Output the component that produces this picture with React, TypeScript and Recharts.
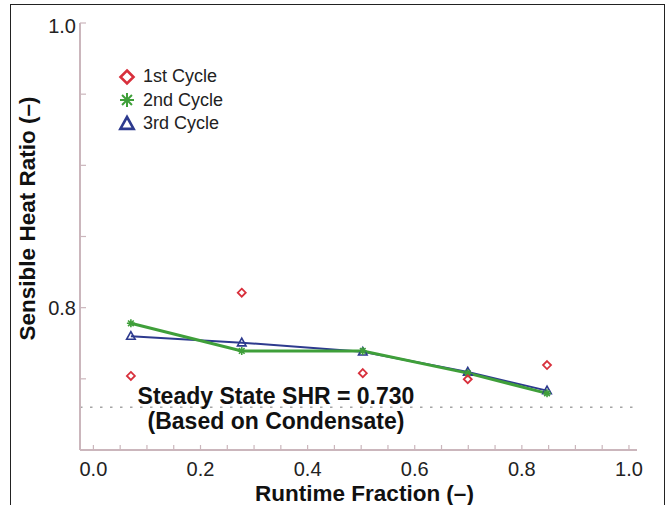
import React from "react";
import { ComposedChart, Line, XAxis, YAxis, ReferenceLine, Legend } from "recharts";

// runtime fraction for each test
const runtime = [0.07, 0.277, 0.503, 0.699, 0.847];
// sensible heat ratio per cycle
const cycle1 = [0.752, 0.8105, 0.754, 0.7497, 0.7597];
const cycle2 = [0.789, 0.7696, 0.7696, 0.754, 0.7398];
const cycle3 = [0.78, 0.7754, 0.769, 0.7548, 0.7417];
const seriesNames = ["1st Cycle", "2nd Cycle", "3rd Cycle"];
const steadyShr = 0.73;

const xTicks = [0, 0.05, 0.1, 0.15, 0.2, 0.25, 0.3, 0.35, 0.4, 0.45, 0.5, 0.55, 0.6, 0.65, 0.7, 0.75, 0.8, 0.85, 0.9, 0.95, 1.0];
const xLabels = [0, 0.2, 0.4, 0.6, 0.8, 1.0];
const yTicks = [0.7, 0.75, 0.8, 0.85, 0.9, 0.95, 1.0];
const yLabels = [0.8, 1.0];

const data = runtime.map((x, i) => ({ x, c1: cycle1[i], c2: cycle2[i], c3: cycle3[i] }));

const FONT = "'Liberation Sans', Arial, Helvetica, sans-serif";
const BORDER = "#cbb6bc";
const RED = "#d8303c";
const GREEN = "#3f9f3a";
const BLUE = "#2d3a8e";

const has = (list: number[], v: number) => list.some((l) => Math.abs(l - v) < 1e-9);

const BottomTick = (props: any) => {
  const { x, y, payload } = props;
  const axisY = y - 12;
  return (
    <g>
      <line x1={x} x2={x} y1={axisY} y2={axisY - 5} stroke={BORDER} strokeWidth={1.2} />
      {has(xLabels, payload.value) && (
        <text x={x} y={axisY + 19} textAnchor="middle" dominantBaseline="central" fontSize={20} fill="#222" fontFamily={FONT}>
          {payload.value.toFixed(1)}
        </text>
      )}
    </g>
  );
};

const TopTick = (props: any) => {
  const { x, y } = props;
  const axisY = y + 4;
  return <line x1={x} x2={x} y1={axisY} y2={axisY + 5} stroke={BORDER} strokeWidth={1.2} />;
};

const LeftTick = (props: any) => {
  const { x, y, payload } = props;
  const axisX = x + 4;
  return (
    <g>
      <line x1={axisX} x2={axisX + 6} y1={y} y2={y} stroke={BORDER} strokeWidth={1.2} />
      {has(yLabels, payload.value) && (
        <text x={axisX - 4} y={payload.value === 1 ? y + 3 : y} textAnchor="end" dominantBaseline="central" fontSize={20} fill="#222" fontFamily={FONT}>
          {payload.value.toFixed(1)}
        </text>
      )}
    </g>
  );
};

const RightTick = (props: any) => {
  const { x, y } = props;
  const axisX = x - 4;
  return <line x1={axisX} x2={axisX - 6} y1={y} y2={y} stroke={BORDER} strokeWidth={1.2} />;
};

const diamondPath = (cx: number, cy: number, r: number) =>
  `M${cx},${cy - r}L${cx + r},${cy}L${cx},${cy + r}L${cx - r},${cy}Z`;
const trianglePath = (cx: number, cy: number, r: number) =>
  `M${cx},${cy - r}L${cx + r * 0.95},${cy + r * 0.7}L${cx - r * 0.95},${cy + r * 0.7}Z`;
const starPath = (cx: number, cy: number, r: number) => {
  const d = r * 0.707;
  return `M${cx - r},${cy}L${cx + r},${cy}M${cx},${cy - r}L${cx},${cy + r}M${cx - d},${cy - d}L${cx + d},${cy + d}M${cx - d},${cy + d}L${cx + d},${cy - d}`;
};

const Marker = ({ kind, cx, cy, big }: { kind: string; cx: number; cy: number; big?: boolean }) => {
  if (kind === "c1")
    return <path d={diamondPath(cx, cy, big ? 6.5 : 4)} fill="none" stroke={RED} strokeWidth={big ? 2.6 : 1.8} />;
  if (kind === "c2")
    return <path d={starPath(cx, cy, big ? 7 : 4)} fill="none" stroke={GREEN} strokeWidth={big ? 2 : 1.6} />;
  return <path d={trianglePath(cx, cy, big ? 7 : 4.5)} fill="none" stroke={BLUE} strokeWidth={big ? 2.6 : 1.6} />;
};

const dotFor = (kind: string) => (p: any) =>
  <Marker key={`${kind}-${p.index}`} kind={kind} cx={p.cx} cy={p.cy} />;

const LegendBox = (props: any) => {
  const items = [...(props.payload || [])].sort((a: any, b: any) => String(a.dataKey).localeCompare(String(b.dataKey)));
  return (
    <div style={{ fontFamily: FONT, fontSize: 18, color: "#222" }}>
      {items.map((it: any) => (
        <div key={it.dataKey} style={{ display: "flex", alignItems: "center", height: 23.5 }}>
          <svg width={20} height={20}>
            <Marker kind={it.dataKey} cx={10} cy={10} big />
          </svg>
          <span style={{ marginLeft: 6 }}>{it.value}</span>
        </div>
      ))}
    </div>
  );
};

const steadyLabel = (props: any) => {
  const vb = props.viewBox || {};
  const cx = vb.x + 196;
  return (
    <g fontFamily={FONT} fontWeight="bold" fontSize={23} fill="#111" textAnchor="middle">
      <text x={cx} y={vb.y - 11} dominantBaseline="central">{`Steady State SHR = ${steadyShr.toFixed(3)}`}</text>
      <text x={cx} y={vb.y + 14} dominantBaseline="central">(Based on Condensate)</text>
    </g>
  );
};

const yTitle = (props: any) => {
  const vb = props.viewBox || {};
  const x = 27;
  const y = vb.y + vb.height / 2 - 18;
  return (
    <text x={x} y={y} transform={`rotate(-90 ${x} ${y})`} textAnchor="middle" dominantBaseline="central" fontFamily={FONT} fontWeight="bold" fontSize={22.5} fill="#111">
      Sensible Heat Ratio (–)
    </text>
  );
};

const xTitle = (props: any) => {
  const vb = props.viewBox || {};
  return (
    <text x={vb.x + vb.width / 2 + 6} y={493} textAnchor="middle" dominantBaseline="central" fontFamily={FONT} fontWeight="bold" fontSize={22.5} fill="#111">
      Runtime Fraction (–)
    </text>
  );
};

export default function App() {
  return (
    <div style={{ position: "absolute", left: 0, top: 0, width: 668, height: 505, overflow: "hidden", background: "#fff" }}>
      <div style={{ position: "absolute", left: 10, top: 4, width: 653, height: 540, border: "1.5px solid #222" }} />
      <ComposedChart width={668} height={505} data={data} margin={{ top: 23, right: 31, bottom: 0, left: 0 }}>
        <XAxis
          xAxisId="b"
          dataKey="x"
          type="number"
          domain={[-0.025, 1.015]}
          ticks={xTicks}
          interval={0}
          tickSize={0}
          tickMargin={12}
          height={55}
          tick={BottomTick}
          axisLine={{ stroke: BORDER, strokeWidth: 2 }}
          tickLine={false}
          label={xTitle}
        />
        <XAxis
          xAxisId="t"
          dataKey="x"
          type="number"
          orientation="top"
          domain={[-0.025, 1.015]}
          ticks={xTicks}
          interval={0}
          tickSize={0}
          tickMargin={4}
          height={0}
          tick={TopTick}
          axisLine={{ stroke: BORDER, strokeWidth: 2 }}
          tickLine={false}
        />
        <YAxis
          yAxisId="l"
          type="number"
          domain={[0.7, 1.0]}
          ticks={yTicks}
          interval={0}
          tickSize={0}
          tickMargin={4}
          width={80}
          tick={LeftTick}
          axisLine={{ stroke: BORDER, strokeWidth: 2 }}
          tickLine={false}
          label={yTitle}
        />
        <YAxis
          yAxisId="r"
          orientation="right"
          type="number"
          domain={[0.7, 1.0]}
          ticks={yTicks}
          interval={0}
          tickSize={0}
          tickMargin={4}
          width={0}
          tick={RightTick}
          axisLine={{ stroke: BORDER, strokeWidth: 2 }}
          tickLine={false}
        />
        <ReferenceLine
          xAxisId="b"
          yAxisId="l"
          y={steadyShr}
          stroke="#a5a5a5"
          strokeWidth={1.5}
          strokeDasharray="2.5 7.5"
          label={steadyLabel}
        />
        <Line xAxisId="b" yAxisId="l" name={seriesNames[2]} dataKey="c3" stroke={BLUE} strokeWidth={2} dot={dotFor("c3")} isAnimationActive={false} />
        <Line xAxisId="b" yAxisId="l" name={seriesNames[1]} dataKey="c2" stroke={GREEN} strokeWidth={3} dot={dotFor("c2")} isAnimationActive={false} />
        <Line xAxisId="b" yAxisId="l" name={seriesNames[0]} dataKey="c1" stroke="none" dot={dotFor("c1")} isAnimationActive={false} />
        <Legend
          layout="vertical"
          align="center"
          verticalAlign="middle"
          content={LegendBox}
          wrapperStyle={{ position: "absolute", left: 117, top: 65, width: 140, height: 75 }}
        />
      </ComposedChart>
    </div>
  );
}
